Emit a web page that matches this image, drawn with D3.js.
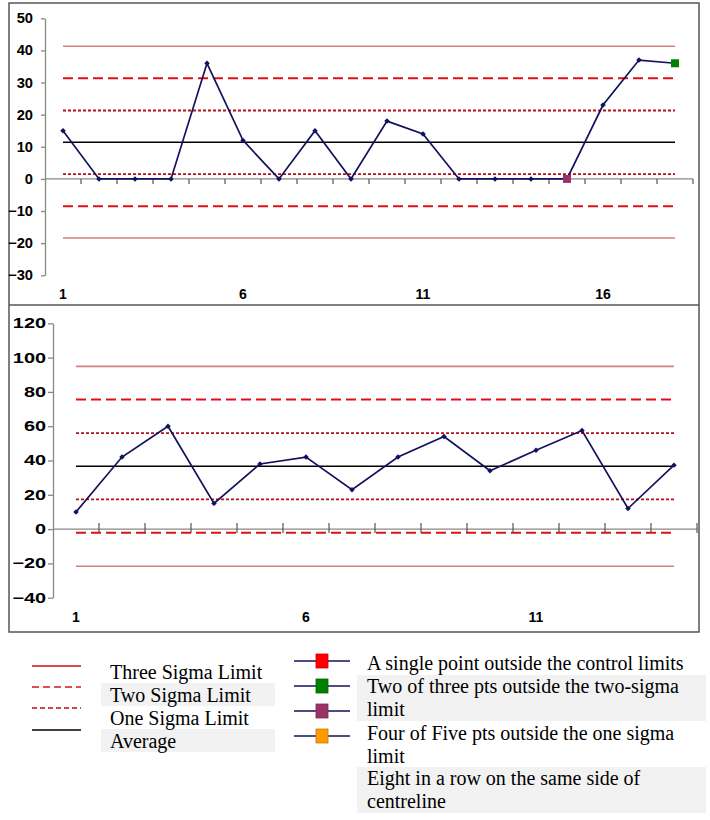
<!DOCTYPE html>
<html>
<head>
<meta charset="utf-8">
<script src="https://d3js.org/d3.v7.min.js"></script>
<style>
    body { margin: 0; background: #fff; }
    .ylab text, .xlab text { font-family: Arial, "Liberation Sans", sans-serif; font-weight: bold; font-size: 14px; fill: #000; }
    .legend text { font-family: "Liberation Serif", "Times New Roman", serif; font-size: 20px; fill: #000; }
</style>
</head>
<body>
<svg width="710" height="820" id="mainsvg"></svg>
<script>
    // top chart
    const topCategories = [1, 2, 3, 4, 5, 6, 7, 8, 9, 10, 11, 12, 13, 14, 15, 16, 17, 18];
    const topValues = [15, 0, 0, 0, 36, 12, 0, 15, 0, 18, 14, 0, 0, 0, 0, 23, 37, 36];
    const topLimits = [41.3, 31.3, 21.3, 11.4, 1.5, -8.5, -18.4];   // +3s, +2s, +1s, avg, -1s, -2s, -3s
    const topYTicks = [-30, -20, -10, 0, 10, 20, 30, 40, 50];
    const topXLabels = [1, 6, 11, 16];
    const topFlags = [[15, 2], [18, 1]];   // [category, rule index]

    // bottom chart
    const bottomCategories = [1, 2, 3, 4, 5, 6, 7, 8, 9, 10, 11, 12, 13, 14];
    const bottomValues = [10, 42, 60, 15, 38, 42, 23, 42, 54, 34, 46, 57.5, 12, 37.3];
    const bottomLimits = [94.9, 75.6, 56.0, 36.6, 17.3, -2.1, -21.7];
    const bottomYTicks = [-40, -20, 0, 20, 40, 60, 80, 100, 120];
    const bottomXLabels = [1, 6, 11];

    // legend
    const limitNames = ['Three Sigma Limit', 'Two Sigma Limit', 'One Sigma Limit', 'Average'];
    const ruleNames = [
        ['A single point outside the control limits'],
        ['Two of three pts outside the two-sigma', 'limit'],
        ['Four of Five pts outside the one sigma', 'limit'],
        ['Eight in a row on the same side of', 'centreline']
    ];

    const ruleColors = ['#ff0000', '#008000', '#993366', '#ff9900'];
    const lineStyles = [
        {stroke: '#d47f80', width: 1.6, dash: null},
        {stroke: '#dd1016', width: 2, dash: '10,5'},
        {stroke: '#b8101a', width: 1.8, dash: '3,2'},
        {stroke: '#000', width: 1.5, dash: null}
    ];
    const limitStyleIdx = [0, 1, 2, 3, 2, 1, 0];
    const seriesColor = '#12125e';
    const axisColor = '#888';

    const svg = d3.select('#mainsvg');

    // panel frames
    svg.append('rect').attr('x', 9).attr('y', 3).attr('width', 690).attr('height', 629)
        .attr('fill', 'none').attr('stroke', '#555').attr('stroke-width', 1.5);
    svg.append('line').attr('x1', 9).attr('x2', 699).attr('y1', 305).attr('y2', 305)
        .attr('stroke', '#555').attr('stroke-width', 1.5);

    function drawPanel(o) {
        const g = svg.append('g');
        const x = d3.scaleBand().domain(o.categories).range(o.xRange).padding(0);
        const y = d3.scaleLinear().domain(o.yDomain).range(o.yRange);
        const cx = c => x(c) + x.bandwidth() / 2;
        const first = o.categories[0], last = o.categories[o.categories.length - 1];

        // y axis
        const yAxis = d3.axisLeft(y).tickValues(o.yTicks).tickSize(o.yTick).tickSizeOuter(0).tickPadding(o.yPad);
        const ya = g.append('g').attr('class', 'ylab')
            .attr('transform', `translate(${o.xRange[0]},0)`).call(yAxis);
        ya.selectAll('path, line').attr('stroke', axisColor).attr('stroke-width', 1.3);
        // labels in the lower panel are drawn wider
        ya.selectAll('text')
            .attr('x', 0)
            .attr('transform', `translate(${-(o.yTick + o.yPad)},0) scale(${o.yStretch},1)`);

        // zero line with category boundary ticks
        const y0 = y(0);
        g.append('line').attr('x1', o.xRange[0]).attr('x2', o.xRange[1])
            .attr('y1', y0).attr('y2', y0).attr('stroke', axisColor).attr('stroke-width', 1.3);
        const bounds = o.categories.slice(1).map(c => x(c)).concat([o.xRange[1]]);
        g.selectAll('.btick').data(bounds).join('line')
            .attr('x1', d => d).attr('x2', d => d)
            .attr('y1', y0 + o.tickUp).attr('y2', y0 + o.tickDown)
            .attr('stroke', '#555').attr('stroke-width', 1.2);

        // category labels
        const xAxis = d3.axisBottom(x).tickValues(o.xLabels).tickSize(0).tickPadding(0);
        const xa = g.append('g').attr('class', 'xlab')
            .attr('transform', `translate(0,${o.labelY})`).call(xAxis);
        xa.select('.domain').remove();

        // limit lines
        g.selectAll('.limit').data(o.limits).join('line')
            .attr('x1', cx(first)).attr('x2', cx(last))
            .attr('y1', d => y(d)).attr('y2', d => y(d))
            .attr('stroke', (d, i) => lineStyles[limitStyleIdx[i]].stroke)
            .attr('stroke-width', (d, i) => lineStyles[limitStyleIdx[i]].width)
            .attr('stroke-dasharray', (d, i) => lineStyles[limitStyleIdx[i]].dash);

        // series
        const pts = o.categories.map((c, i) => [c, o.values[i]]);
        g.append('path').datum(pts)
            .attr('d', d3.line().x(d => cx(d[0])).y(d => y(d[1])))
            .attr('fill', 'none').attr('stroke', seriesColor).attr('stroke-width', 1.7);
        g.selectAll('.pt').data(pts).join('path')
            .attr('d', d3.symbol(d3.symbolSquare, 15))
            .attr('transform', d => `translate(${cx(d[0])},${y(d[1])}) rotate(45)`)
            .attr('fill', seriesColor);

        (o.flags || []).forEach(f => {
            const v = o.values[o.categories.indexOf(f[0])];
            g.append('rect')
                .attr('x', cx(f[0]) - 4).attr('y', y(v) - 4)
                .attr('width', 8).attr('height', 8)
                .attr('fill', ruleColors[f[1]]);
        });
    }

    drawPanel({
        categories: topCategories, values: topValues, limits: topLimits,
        yTicks: topYTicks, xLabels: topXLabels, flags: topFlags,
        xRange: [45, 693], yDomain: [-30, 50], yRange: [275.3, 18.3],
        yTick: 4, yPad: 8, yStretch: 1.05,
        labelY: 289, tickUp: 0, tickDown: 5
    });
    drawPanel({
        categories: bottomCategories, values: bottomValues, limits: bottomLimits,
        yTicks: bottomYTicks, xLabels: bottomXLabels,
        xRange: [53, 697], yDomain: [-40, 120], yRange: [597.7, 323.3],
        yTick: 5, yPad: 2, yStretch: 1.42,
        labelY: 612, tickUp: -6, tickDown: 4
    });

    // legend
    const lg = svg.append('g').attr('class', 'legend');
    const leftRowY = [666, 687, 708, 730];
    const leftTextY = [679, 702, 725, 748];
    [1, 3].forEach(i => {
        lg.append('rect').attr('x', 101).attr('y', leftTextY[i] - 19).attr('width', 174).attr('height', 23)
            .attr('fill', '#f2f2f2');
    });
    limitNames.forEach((name, i) => {
        const s = lineStyles[i];
        lg.append('line').attr('x1', 32).attr('x2', 81).attr('y1', leftRowY[i]).attr('y2', leftRowY[i])
            .attr('stroke', i === 0 ? '#cc1010' : s.stroke).attr('stroke-width', 1.6)
            .attr('stroke-dasharray', i === 1 ? '7,4' : (i === 2 ? '5,3' : null));
        lg.append('text').attr('x', 110).attr('y', leftTextY[i]).text(name);
    });

    const ruleRowY = [661, 686, 711, 736];
    const ruleTextY = [670, 693, 740, 785];
    [1, 3].forEach(i => {
        lg.append('rect').attr('x', 357).attr('y', ruleTextY[i] - 18).attr('width', 349).attr('height', 46)
            .attr('fill', '#f2f2f2');
    });
    ruleColors.forEach((c, i) => {
        lg.append('line').attr('x1', 294).attr('x2', 350).attr('y1', ruleRowY[i]).attr('y2', ruleRowY[i])
            .attr('stroke', seriesColor).attr('stroke-width', 1.5);
        lg.append('rect').attr('x', 316).attr('y', ruleRowY[i] - 7).attr('width', 12).attr('height', 14)
            .attr('fill', c).attr('stroke', d3.color(c).darker(0.6)).attr('stroke-width', 0.8);
    });
    ruleNames.forEach((lines, i) => {
        const t = lg.append('text').attr('x', 367).attr('y', ruleTextY[i]);
        lines.forEach((l, j) => t.append('tspan').attr('x', 367).attr('dy', j ? 22.5 : 0).text(l));
    });
</script>
</body>
</html>
